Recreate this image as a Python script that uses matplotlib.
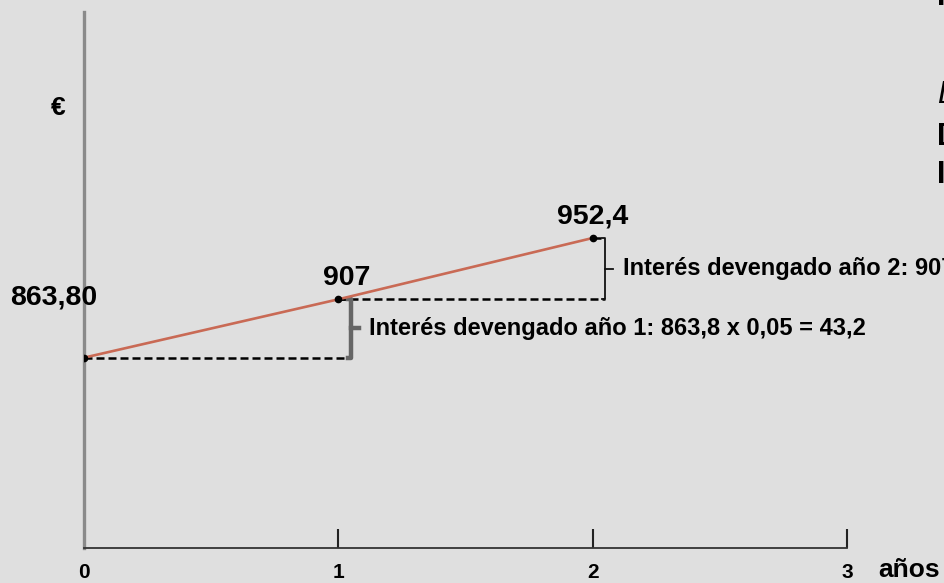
import matplotlib
matplotlib.use("Agg")
import matplotlib.pyplot as plt

plt.rcParams['font.family'] = ['Liberation Sans', 'DejaVu Sans']

# Valor del bono al final de cada año
years = [0, 1, 2]
values = [863.8, 907.0, 952.4]
value_labels = ["863,80", "907", "952,4"]
tick_years = [0, 1, 2, 3]
tick_labels = ["0", "1", "2", "3"]
interest_notes = [
    "Interés devengado año 1: 863,8 x 0,05 = 43,2",
    "Interés devengado año 2: 907 x 0,05 = 45,4",
]
side_notes = ["Inversión", "Datos:", "Duración: 3 años", "Interés: 5 %"]

BG = "#dfdfdf"
W, H = 945, 583

fig = plt.figure(figsize=(W / 100, H / 100), dpi=100, facecolor=BG)
ax = fig.add_axes([84 / W, 35 / H, (847 - 84) / W, (548 - 12) / H])
ax.set_facecolor(BG)
ax.set_xlim(0, 3)
ax.set_ylim(722.9, 1119.7)

# Ejes
for side in ("top", "right"):
    ax.spines[side].set_visible(False)
ax.spines["left"].set_color("#8a8a8a")
ax.spines["left"].set_linewidth(2.4)
ax.spines["bottom"].set_color("#333333")
ax.spines["bottom"].set_linewidth(1.3)
ax.set_yticks([])
ax.set_xticks(tick_years[1:])
ax.set_xticklabels([])
ax.tick_params(axis="x", direction="in", length=14, width=1.5, color="#222222")
for x, lab in zip(tick_years, tick_labels):
    ax.annotate(lab, xy=(x, 0), xycoords=("data", "axes fraction"),
                xytext=(0, -30), textcoords="offset pixels",
                ha="center", va="baseline", fontsize=15, fontweight="bold")
ax.annotate("años", xy=(3, 0), xycoords=("data", "axes fraction"),
            xytext=(31, -29), textcoords="offset pixels",
            ha="left", va="baseline", fontsize=19, fontweight="bold",
            annotation_clip=False)
fig.text(58 / W, 1 - 108 / H, "€", ha="center", va="center",
         fontsize=19, fontweight="bold")

# Líneas de referencia discontinuas y llaves de interés
br_dx = 0.05
for i in range(2):
    x0, y0 = years[i], values[i]
    x1, y1 = years[i + 1], values[i + 1]
    xb = x1 + br_dx
    ax.plot([x0, xb], [y0, y0], color="black", lw=1.8,
            dashes=(3.2, 1.6), zorder=2)
    ax.plot([x1, xb], [y1, y1], color="black", lw=1.8,
            dashes=(3.2, 1.6), zorder=2)
    if i == 0:
        bcol, blw, hook = "#666666", 3.2, 0.012
    else:
        bcol, blw, hook = "#111111", 1.3, 0.012
    ax.plot([xb - hook, xb, xb, xb - hook], [y0, y0, y1, y1],
            color=bcol, lw=blw, solid_joinstyle="round", zorder=3)
    ym = (y0 + y1) / 2
    ax.plot([xb, xb + 0.03], [ym, ym], color=bcol, lw=blw, zorder=3)
    ax.annotate(interest_notes[i], xy=(xb, ym), xytext=(18, 0),
                textcoords="offset pixels", ha="left", va="center",
                fontsize=17, fontweight="bold", annotation_clip=False)

# Evolución del valor
ax.plot(years, values, color="#c96a55", lw=1.9, zorder=4)
ax.plot(years, values, "o", color="black", ms=4.5, zorder=5)

label_offsets = [(-30, 60), (8, 21), (0, 21)]
for x, v, lab, off in zip(years, values, value_labels, label_offsets):
    ax.annotate(lab, xy=(x, v), xytext=off, textcoords="offset pixels",
                ha="center", va="center", fontsize=20.5, fontweight="bold",
                annotation_clip=False)

# Notas laterales
side_y = [5, 103, 145, 183]
side_style = ["normal", "italic", "normal", "normal"]
for txt, y, st in zip(side_notes, side_y, side_style):
    fig.text(937 / W, 1 - y / H, txt, ha="left", va="baseline",
             fontsize=22, fontweight="bold" if st == "normal" else "normal",
             fontstyle=st)

fig.savefig("out.png", dpi=100, facecolor=BG)
